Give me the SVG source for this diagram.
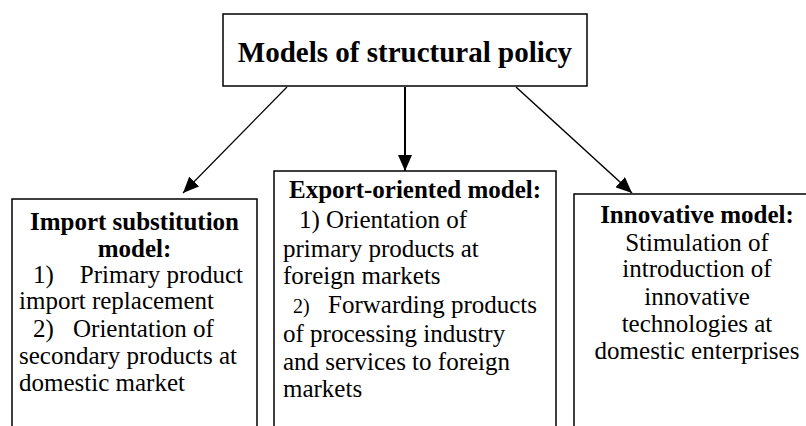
<svg xmlns="http://www.w3.org/2000/svg" width="806" height="426" viewBox="0 0 806 426">
<style>
.box{fill:#fff;stroke:#000;stroke-width:1.5}
text{font-family:'Liberation Serif','Times New Roman',Times,'DejaVu Serif',serif;font-size:25px;fill:#000}
.b{font-weight:bold}
.c{text-anchor:middle}
.title{font-size:29px}
.small{font-size:20px}
.edge{stroke:#000;fill:none}
</style>
<defs>
<marker id="ah" markerUnits="userSpaceOnUse" markerWidth="16" markerHeight="14" refX="16" refY="7" orient="auto">
<path d="M0,0 L16,7 L0,14 z" fill="#000"/>
</marker>
</defs>
<rect width="806" height="426" fill="#fff"/>
<g id="connectors">
<line class="edge" x1="287" y1="87" x2="183" y2="193" stroke-width="1.2" marker-end="url(#ah)"/>
<line class="edge" x1="405" y1="87" x2="405" y2="171" stroke-width="2" marker-end="url(#ah)"/>
<line class="edge" x1="516" y1="87" x2="632" y2="193" stroke-width="1.5" marker-end="url(#ah)"/>
</g>
<g id="root">
<rect class="box" x="223" y="14" width="364" height="72"/>
<text class="b c title" x="405" y="62">Models of structural policy</text>
</g>
<g id="import">
<rect class="box" x="12" y="199" width="245" height="240"/>
<text class="b c" x="134.5" y="230">Import substitution</text>
<text class="b c" x="134.5" y="257">model:</text>
<text x="33" y="283">1)</text>
<text x="243" y="283" text-anchor="end">Primary product</text>
<text x="19" y="309">import replacement</text>
<text x="33" y="337">2)</text>
<text x="73" y="337">Orientation of</text>
<text x="19" y="364">secondary products at</text>
<text x="19" y="391">domestic market</text>
</g>
<g id="export">
<rect class="box" x="274" y="171" width="282" height="270"/>
<text class="b c" x="415" y="198">Export-oriented model:</text>
<text x="299" y="228">1) Orientation of</text>
<text x="283" y="257">primary products at</text>
<text x="283" y="284">foreign markets</text>
<text class="small" x="293" y="313">2)</text>
<text x="328" y="313">Forwarding products</text>
<text x="283" y="342">of processing industry</text>
<text x="283" y="370">and services to foreign</text>
<text x="283" y="397">markets</text>
</g>
<g id="innovative">
<rect class="box" x="574" y="194" width="250" height="250"/>
<text class="b c" x="697" y="223">Innovative model:</text>
<text class="c" x="697" y="251">Stimulation of</text>
<text class="c" x="697" y="277">introduction of</text>
<text class="c" x="697" y="305">innovative</text>
<text class="c" x="697" y="332">technologies at</text>
<text class="c" x="697" y="359">domestic enterprises</text>
</g>
</svg>
